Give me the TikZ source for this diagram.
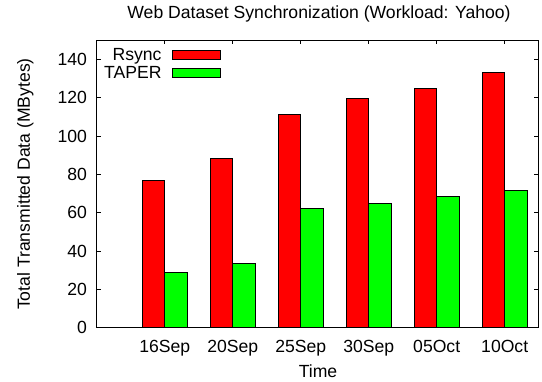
\documentclass[tikz,border=0pt]{standalone}
\usepackage{fontspec}
\setmainfont{Liberation Sans}
\begin{document}
\begin{tikzpicture}[x=1pt,y=1pt,
  txt/.style={font=\fontsize{17.6}{20}\selectfont, inner sep=0pt},
  rbar/.style={fill={rgb,255:red,255;green,0;blue,0}, draw=black, line width=0.8pt},
  gbar/.style={fill={rgb,255:red,0;green,255;blue,0}, draw=black, line width=0.8pt},
  frame/.style={draw=black, line width=1.1pt},
  tick/.style={draw=black, line width=0.8pt}]
\useasboundingbox (0,0) rectangle (542,382);
% plot coordinate system: origin at (96.7,54.3), 68pt per category, 1.9167pt per MByte
\begin{scope}[shift={(96.7,54.3)}, x=68pt, y=1.9167pt]
  % ticks on y axis (left and right)
  \foreach \v in {20,40,...,140} {
    \draw[tick] (0,\v) -- ++(4pt,0);
    \draw[tick] (6.494,\v) -- ++(-4pt,0);
    \node[txt, anchor=east] (yl\v) at (-9.5pt,\v) {\v};
  }
  \node[txt, anchor=east] (yl0) at (-9.5pt,0) {0};
  % x ticks (top and bottom)
  \foreach \i/\lab [count=\k] in {0/16Sep,1/20Sep,2/25Sep,3/30Sep,4/05Oct,5/10Oct} {
    \draw[tick] (\k,150) -- ++(0,-4pt);
    \draw[tick] (\k,0) -- ++(0,4pt);
    \node[txt, anchor=base] (xl\i) at (\k,-25.3pt) {\lab};
  }
  % bars
  \foreach \k/\r/\g in {1/76.7/28.7, 2/88.4/33.4, 3/111.2/62.2, 4/119.6/64.9, 5/124.6/68.5, 6/133.4/71.5} {
    \draw[rbar] (\k-1/3,0) rectangle (\k,\r);
    \draw[gbar] (\k,0) rectangle (\k+1/3,\g);
  }
  % frame
  \draw[frame] (0,0) rectangle (6.494,150);
\end{scope}
% legend
\node[txt, anchor=base east] (lr) at (161.7,321) {Rsync};
\node[txt, anchor=base east] (lt) at (161.7,303.8) {TAPER};
\draw[rbar] (172.7,322.7) rectangle (220,331.3);
\draw[gbar] (172.7,304.7) rectangle (220,313.7);
% titles
\node[txt, anchor=base] (title) at (319,363) {Web Dataset Synchronization (Workload: Yahoo)};
\node[txt, anchor=base] (xlabel) at (318,4) {Time};
\node[txt, anchor=base, rotate=90] (ylabel) at (30,198) {Total Transmitted Data (MBytes)};
\end{tikzpicture}
\end{document}
